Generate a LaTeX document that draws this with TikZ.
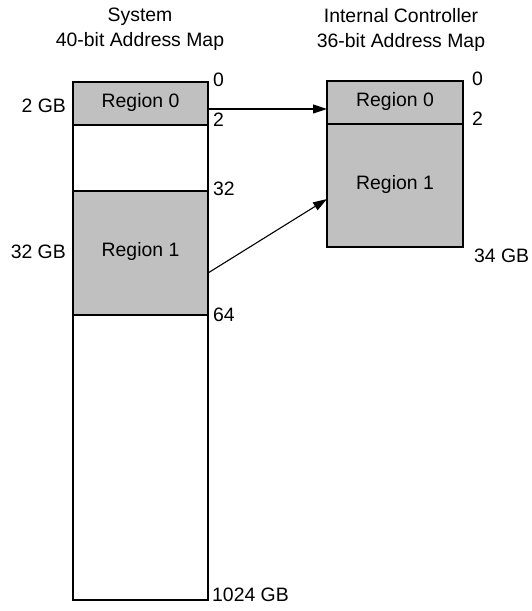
\documentclass[tikz,border=0pt]{standalone}
\usepackage{fontspec}
\setmainfont{Liberation Sans}
\usetikzlibrary{arrows.meta}
\definecolor{regiongray}{RGB}{192,192,192}
\begin{document}
\begin{tikzpicture}[x=1pt,y=-1pt,
  every node/.style={font=\fontsize{19.4}{25}\selectfont},
  region/.style={fill=regiongray, draw=black, line width=2.5pt, anchor=north west,
    inner sep=0pt, outer sep=0pt, text height=0.716em, text depth=0pt},
  frame/.style={draw=black, line width=2.5pt, anchor=north west, inner sep=0pt, outer sep=0pt},
  lbl/.style={inner sep=0pt, text height=0.716em, text depth=0pt},
  link/.style={line width=1.1pt, -{Triangle[length=14pt,width=9pt]}}]
\fill[white] (0,0) rectangle (532,611);
\useasboundingbox (0,0) rectangle (532,611);

% titles
\node[align=center, inner sep=0pt] (t1) at (140,29.5) {System\\40-bit Address Map};
\node[align=center, inner sep=0pt] (t2) at (401,29.5) {Internal Controller\\36-bit Address Map};

% system map
\node[region, minimum width=135pt, minimum height=43pt] (s0) at (73,82) {Region 0};
\node[region, minimum width=135pt, minimum height=124pt] (s1) at (73,191) {Region 1};
\node[frame, minimum width=135pt, minimum height=518pt] (sys) at (73,82) {};

% controller map
\node[region, minimum width=136pt, minimum height=43pt] (c0) at (327,81) {Region 0};
\node[region, minimum width=136pt, minimum height=123pt] (c1) at (327,124) {Region 1};

% size labels
\node[lbl, anchor=east] (l2gb) at (66,109) {2 GB};
\node[lbl, anchor=east] (l32gb) at (66,255) {32 GB};

% address labels, system
\node[lbl, anchor=west] (a0) at (213,83) {0};
\node[lbl, anchor=west] (a2) at (213,123) {2};
\node[lbl, anchor=west] (a32) at (213,192) {32};
\node[lbl, anchor=west] (a64) at (213,318) {64};
\node[lbl, anchor=west] (a1024) at (212,598) {1024 GB};

% address labels, controller
\node[lbl, anchor=west] (b0) at (472,82) {0};
\node[lbl, anchor=west] (b2) at (472,122) {2};
\node[lbl, anchor=west] (b34) at (474,259) {34 GB};

% mappings
\draw[link] ([yshift=-5.5pt]s0.east) -- ([yshift=-6.5pt]c0.west);
\draw[link] ([yshift=-20pt]s1.east) -- ([yshift=-13.5pt]c1.west);
\end{tikzpicture}
\end{document}
